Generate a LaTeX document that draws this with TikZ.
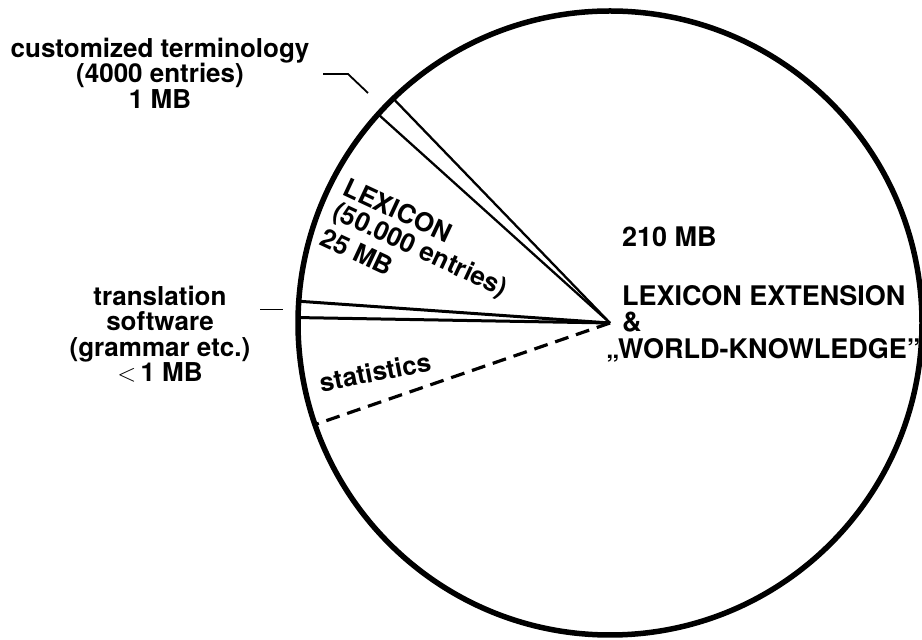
\documentclass[tikz,border=0pt]{standalone}
\usepackage{fontspec}
\setmainfont{TeX Gyre Heros}
\begin{document}
\begin{tikzpicture}[x=1pt,y=1pt,
  lbl/.style={inner sep=0pt, outer sep=0pt, font=\fontsize{26}{25.5}\selectfont\bfseries},
  biglbl/.style={lbl, font=\fontsize{27}{26.5}\selectfont\bfseries},
  rim/.style={circle, draw, line width=5.5pt, minimum size=624pt, inner sep=0pt, outer sep=0pt},
  spoke/.style={line width=3pt},
  thinspoke/.style={line width=2.3pt},
  leader/.style={line width=1.8pt},
  dashspoke/.style={line width=3.2pt, dash pattern=on 14pt off 8pt}]
\useasboundingbox (0,0) rectangle (922,640);

% pie outline and its centre
\node[rim] (pie) at (610,317) {};
\coordinate (c) at (pie.center);

% sector boundaries
\draw[thinspoke] (c) -- (pie.134.2);
\draw[thinspoke] (c) -- (pie.138.5);
\draw[spoke] (c) -- (pie.176.2);
\draw[spoke] (c) -- (pie.179.5);
\draw[dashspoke] (c) -- (pie.199);

% left-hand labels with their leaders
\node[lbl, align=center, anchor=north] (term) at (160,602)
  {customized terminology\\(4000 entries)\\1 MB};
\coordinate (t1) at (323,566);
\coordinate (t2) at (348,566);
\coordinate (t3) at (368,547);
\draw[leader] (t1) -- (t2) -- (t3);

\node[lbl, align=center, anchor=north] (soft) at (160,354)
  {translation\\software\\(grammar etc.)\\$<$\,1 MB};
\coordinate (s1) at (260,330);
\coordinate (s2) at (283,330);
\draw[line width=1pt] (s1) -- (s2);

% labels inside the pie
\node[lbl, align=left, anchor=north west, rotate=-25] (lex) at (350,463)
  {LEXICON\\(50.000 entries)\\[4pt]25 MB};
\node[lbl, rotate=11] (stat) at (375,268) {statistics};

\node[biglbl, anchor=base west] (size) at (622,393) {210 MB};
\node[biglbl, align=left, anchor=north west] (ext) at (622,355)
  {LEXICON EXTENSION\\\&\\\hspace*{-16pt}„WORLD-KNOWLEDGE”};
\end{tikzpicture}
\end{document}
